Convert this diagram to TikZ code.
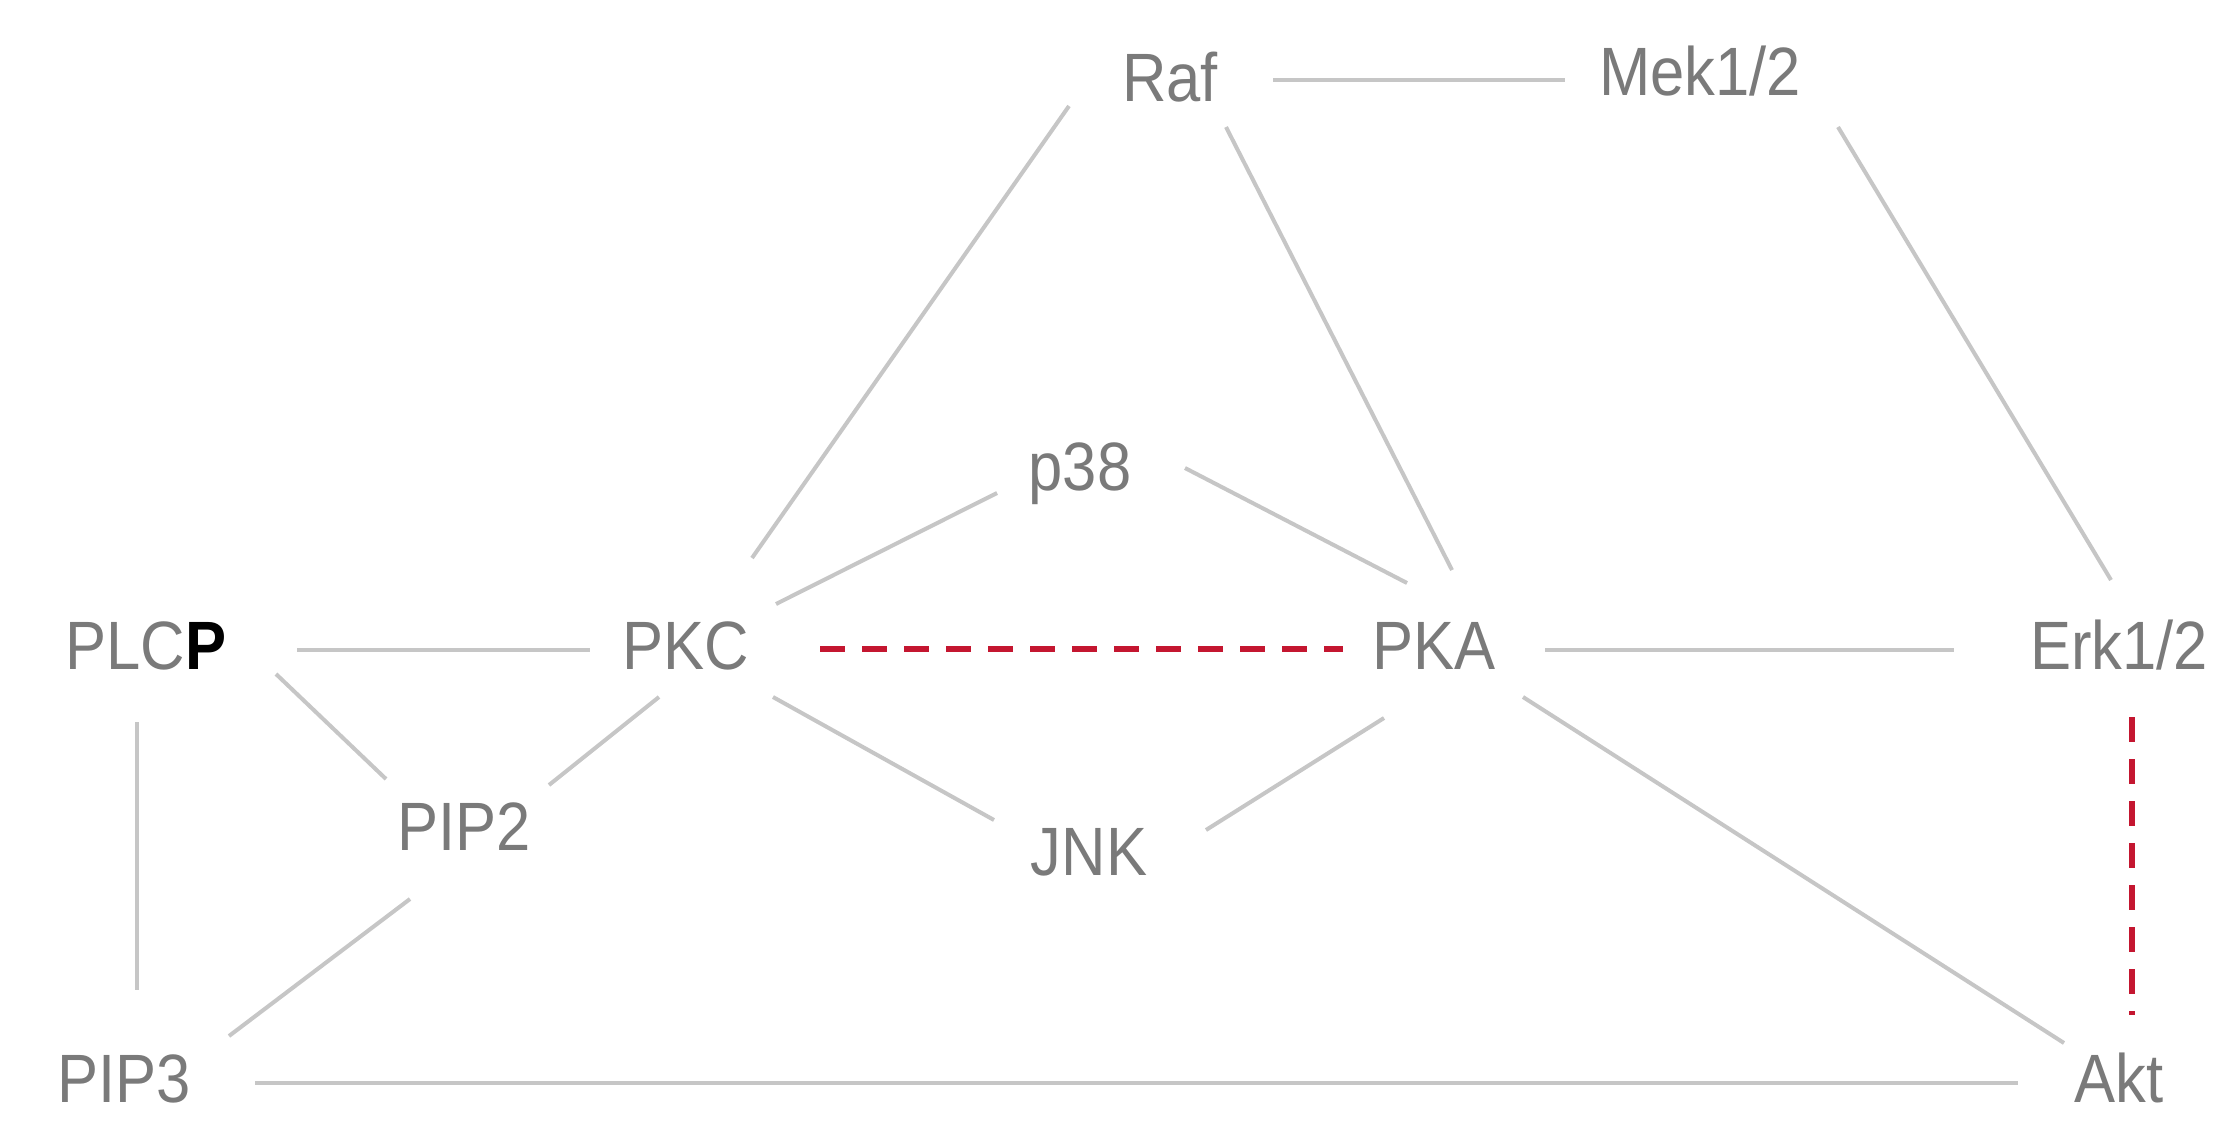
\documentclass[tikz,border=0pt]{standalone}
\usepackage{fontspec}
\setmainfont[FakeStretch=0.9]{Liberation Sans}
\definecolor{txtgrey}{RGB}{122,122,122}
\definecolor{linegrey}{RGB}{198,198,198}
\definecolor{dashred}{RGB}{196,22,48}
\begin{document}
\begin{tikzpicture}[x=0.5pt,y=-0.5pt,
  lbl/.style={inner sep=0pt, text height=24.5pt, text depth=0pt, anchor=center,
              font=\fontsize{34.2}{40}\selectfont, text=txtgrey},
  edge/.style={draw=linegrey, line width=2pt},
  neg/.style={draw=dashred, line width=2.8pt, dash pattern=on 12.5pt off 8.5pt}]
\useasboundingbox (0,0) rectangle (2217,1137);
\fill[white] (0,0) rectangle (2217,1137);
% nodes
\node[lbl] (raf)  at (1170,77)  {Raf};
\node[lbl] (mek)  at (1700,71)  {Mek1/2};
\node[lbl] (p38)  at (1080,466) {p38};
\node[lbl] (plcp) at (146,645)  {PLC\textcolor{black}{\textbf{P}}};
\node[lbl] (pkc)  at (686,645)  {PKC};
\node[lbl] (pka)  at (1434,645) {PKA};
\node[lbl] (erk)  at (2119,645) {Erk1/2};
\node[lbl] (pip2) at (464,826)  {PIP2};
\node[lbl] (jnk)  at (1089,851) {JNK};
\node[lbl] (pip3) at (124,1078) {PIP3};
\node[lbl] (akt)  at (2119,1078) {Akt};
% edges
\draw[edge] ([shift={(103,3)}]raf.center) -- ([shift={(-135,9)}]mek.center);
\draw[edge] ([shift={(-101,29)}]raf.center) -- ([shift={(66,-87)}]pkc.center);
\draw[edge] ([shift={(56,50)}]raf.center) -- ([shift={(18,-75)}]pka.center);
\draw[edge] ([shift={(138,56)}]mek.center) -- ([shift={(-8,-65)}]erk.center);
\draw[edge] ([shift={(-83,27)}]p38.center) -- ([shift={(90,-41)}]pkc.center);
\draw[edge] ([shift={(105,2)}]p38.center) -- ([shift={(-27,-62)}]pka.center);
\draw[edge] ([shift={(151,5)}]plcp.center) -- ([shift={(-96,5)}]pkc.center);
\draw[neg]  ([shift={(134,4)}]pkc.center) -- ([shift={(-91,4)}]pka.center);
\draw[edge] ([shift={(111,5)}]pka.center) -- ([shift={(-165,5)}]erk.center);
\draw[edge] ([shift={(130,29)}]plcp.center) -- ([shift={(-78,-47)}]pip2.center);
\draw[edge] ([shift={(-27,52)}]pkc.center) -- ([shift={(85,-41)}]pip2.center);
\draw[edge] ([shift={(87,52)}]pkc.center) -- ([shift={(-95,-31)}]jnk.center);
\draw[edge] ([shift={(-50,73)}]pka.center) -- ([shift={(117,-21)}]jnk.center);
\draw[edge] ([shift={(89,52)}]pka.center) -- ([shift={(-55,-35)}]akt.center);
\draw[neg]  ([shift={(13,72)}]erk.center) -- ([shift={(13,-63)}]akt.center);
\draw[edge] ([shift={(-9,77)}]plcp.center) -- ([shift={(13,-88)}]pip3.center);
\draw[edge] ([shift={(-54,73)}]pip2.center) -- ([shift={(105,-42)}]pip3.center);
\draw[edge] ([shift={(131,5)}]pip3.center) -- ([shift={(-101,5)}]akt.center);
\end{tikzpicture}
\end{document}
